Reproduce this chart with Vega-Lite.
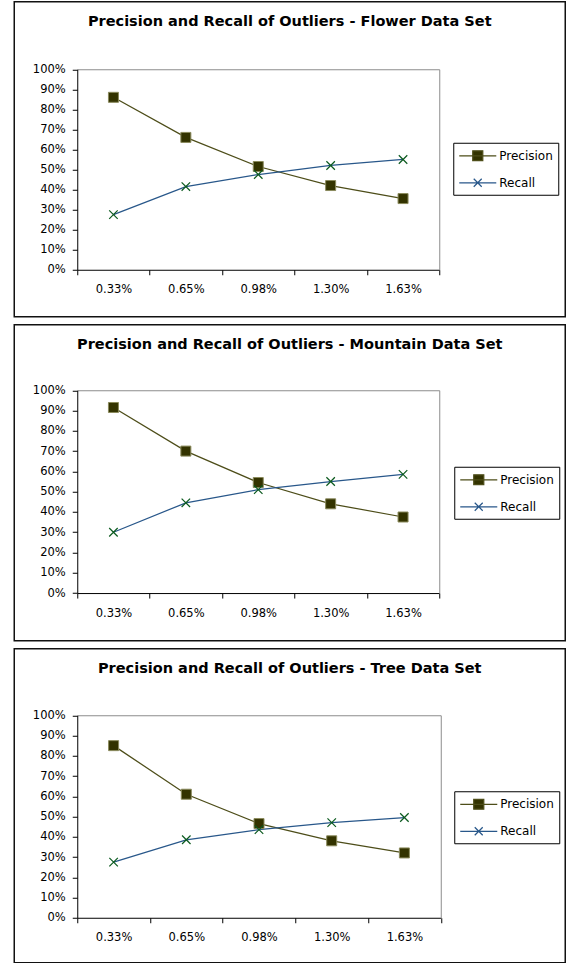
{
  "$schema": "https://vega.github.io/schema/vega-lite/v6.json",
  "background": "white",
  "padding": {"left": 13.25, "top": 0.75, "right": 0, "bottom": 0},
  "spacing": 6,
  "resolve": {"scale": {"color": "independent"}, "legend": {"color": "independent"}},
  "datasets": {
    "pr": [
      {"set": "Flower", "series": "Precision", "rate": "0.33%", "value": 0.86},
      {"set": "Flower", "series": "Precision", "rate": "0.65%", "value": 0.66},
      {"set": "Flower", "series": "Precision", "rate": "0.98%", "value": 0.515},
      {"set": "Flower", "series": "Precision", "rate": "1.30%", "value": 0.42},
      {"set": "Flower", "series": "Precision", "rate": "1.63%", "value": 0.355},
      {"set": "Flower", "series": "Recall", "rate": "0.33%", "value": 0.275},
      {"set": "Flower", "series": "Recall", "rate": "0.65%", "value": 0.415},
      {"set": "Flower", "series": "Recall", "rate": "0.98%", "value": 0.475},
      {"set": "Flower", "series": "Recall", "rate": "1.30%", "value": 0.52},
      {"set": "Flower", "series": "Recall", "rate": "1.63%", "value": 0.55},
      {"set": "Mountain", "series": "Precision", "rate": "0.33%", "value": 0.915},
      {"set": "Mountain", "series": "Precision", "rate": "0.65%", "value": 0.70},
      {"set": "Mountain", "series": "Precision", "rate": "0.98%", "value": 0.545},
      {"set": "Mountain", "series": "Precision", "rate": "1.30%", "value": 0.44},
      {"set": "Mountain", "series": "Precision", "rate": "1.63%", "value": 0.375},
      {"set": "Mountain", "series": "Recall", "rate": "0.33%", "value": 0.30},
      {"set": "Mountain", "series": "Recall", "rate": "0.65%", "value": 0.445},
      {"set": "Mountain", "series": "Recall", "rate": "0.98%", "value": 0.51},
      {"set": "Mountain", "series": "Recall", "rate": "1.30%", "value": 0.55},
      {"set": "Mountain", "series": "Recall", "rate": "1.63%", "value": 0.585},
      {"set": "Tree", "series": "Precision", "rate": "0.33%", "value": 0.85},
      {"set": "Tree", "series": "Precision", "rate": "0.65%", "value": 0.61},
      {"set": "Tree", "series": "Precision", "rate": "0.98%", "value": 0.465},
      {"set": "Tree", "series": "Precision", "rate": "1.30%", "value": 0.38},
      {"set": "Tree", "series": "Precision", "rate": "1.63%", "value": 0.32},
      {"set": "Tree", "series": "Recall", "rate": "0.33%", "value": 0.275},
      {"set": "Tree", "series": "Recall", "rate": "0.65%", "value": 0.385},
      {"set": "Tree", "series": "Recall", "rate": "0.98%", "value": 0.435},
      {"set": "Tree", "series": "Recall", "rate": "1.30%", "value": 0.47},
      {"set": "Tree", "series": "Recall", "rate": "1.63%", "value": 0.495}
    ]
  },
  "config": {
    "font": "DejaVu Sans",
    "axis": {"labelFont": "DejaVu Sans", "labelColor": "#000", "grid": false, "title": null},
    "title": {"font": "DejaVu Sans", "fontSize": 14.5, "fontWeight": "bold", "color": "#000", "anchor": "middle", "frame": "group", "baseline": "middle", "offset": -28},
    "legend": {"labelFont": "DejaVu Sans", "orient": "none", "title": null, "strokeColor": "#000", "fillColor": "white", "padding": 5, "labelFontSize": 12, "labelColor": "#000", "labelOffset": 25, "rowPadding": 11, "symbolSize": 196, "symbolStrokeWidth": 1.25}
  },
  "vconcat": [
    {
      "width": 551, "height": 315,
      "view": {"stroke": "#111", "strokeWidth": 1.5, "fill": "white"},
      "title": "Precision and Recall of Outliers - Flower Data Set",
      "data": {"name": "pr"},
      "transform": [{"filter": "datum.set === 'Flower'"}],
      "layer": [
        {
          "mark": {"type": "line", "strokeWidth": 1.25},
          "encoding": {
            "x": {"field": "rate", "type": "ordinal", "sort": ["0.33%", "0.65%", "0.98%", "1.30%", "1.63%"], "scale": {"type": "band", "range": [63, 425], "paddingInner": 0, "paddingOuter": 0},
              "axis": {"orient": "bottom", "offset": -47, "tickBand": "extent", "domainColor": "#000", "tickColor": "#000", "tickSize": 5, "labelFontSize": 11.5, "labelPadding": 9, "labelAngle": 0}},
            "y": {"field": "value", "type": "quantitative", "scale": {"domain": [0, 1], "range": [268, 67.5], "nice": false},
              "axis": {"orient": "left", "offset": -63, "values": [0, 0.1, 0.2, 0.3, 0.4, 0.5, 0.6, 0.7, 0.8, 0.9, 1], "format": ".0%", "domainColor": "#000", "tickColor": "#000", "tickSize": 5, "labelFontSize": 11.5, "labelPadding": 7}},
            "color": {"field": "series", "type": "nominal", "scale": {"domain": ["Precision", "Recall"], "range": ["#4d4d19", "#28578a"]},
              "legend": {"legendX": 439, "legendY": 141,
                "encode": {"symbols": {"update": {
                  "shape": {"signal": "datum.value === 'Precision' ? 'M-1,0H4.29M0.93,-0.71H2.36V0.71H0.93Z' : 'M-1,0H4.29M1.07,-0.57L2.21,0.57M1.07,0.57L2.21,-0.57'"},
                  "fill": {"signal": "datum.value === 'Precision' ? '#333300' : 'transparent'"}}}}}}
          }
        },
        {
          "transform": [{"filter": "datum.series === 'Precision'"}],
          "mark": {"type": "point", "shape": "square", "filled": true, "fill": "#333300", "stroke": "#8a8a5c", "strokeWidth": 1, "size": 100, "opacity": 1},
          "encoding": {
            "x": {"field": "rate", "type": "ordinal", "sort": ["0.33%", "0.65%", "0.98%", "1.30%", "1.63%"], "scale": {"type": "band", "range": [63, 425], "paddingInner": 0, "paddingOuter": 0},
              "axis": {"orient": "top", "offset": -67.5, "ticks": false, "labels": false, "domainColor": "#8c8c8c"}},
            "y": {"field": "value", "type": "quantitative", "scale": {"domain": [0, 1], "range": [268, 67.5], "nice": false},
              "axis": {"orient": "right", "offset": -126, "ticks": false, "labels": false, "domainColor": "#8c8c8c"}}
          }
        },
        {
          "transform": [{"filter": "datum.series === 'Recall'"}],
          "mark": {"type": "point", "shape": "M-1,-1L1,1M-1,1L1,-1", "filled": false, "stroke": "#0b5a1e", "strokeWidth": 1.2, "size": 72, "opacity": 1},
          "encoding": {
            "x": {"field": "rate", "type": "ordinal", "sort": ["0.33%", "0.65%", "0.98%", "1.30%", "1.63%"], "scale": {"type": "band", "range": [63, 425], "paddingInner": 0, "paddingOuter": 0}, "axis": null},
            "y": {"field": "value", "type": "quantitative", "scale": {"domain": [0, 1], "range": [268, 67.5], "nice": false}, "axis": null}
          }
        }
      ],
      "resolve": {"axis": {"x": "independent", "y": "independent"}}
    },
    {
      "width": 551, "height": 316,
      "view": {"stroke": "#111", "strokeWidth": 1.5, "fill": "white"},
      "title": "Precision and Recall of Outliers - Mountain Data Set",
      "data": {"name": "pr"},
      "transform": [{"filter": "datum.set === 'Mountain'"}],
      "layer": [
        {
          "mark": {"type": "line", "strokeWidth": 1.25},
          "encoding": {
            "x": {"field": "rate", "type": "ordinal", "sort": ["0.33%", "0.65%", "0.98%", "1.30%", "1.63%"], "scale": {"type": "band", "range": [63, 425], "paddingInner": 0, "paddingOuter": 0},
              "axis": {"orient": "bottom", "offset": -47.7, "tickBand": "extent", "domainColor": "#000", "tickColor": "#000", "tickSize": 5, "labelFontSize": 11.5, "labelPadding": 9, "labelAngle": 0}},
            "y": {"field": "value", "type": "quantitative", "scale": {"domain": [0, 1], "range": [268.3, 65.5], "nice": false},
              "axis": {"orient": "left", "offset": -63, "values": [0, 0.1, 0.2, 0.3, 0.4, 0.5, 0.6, 0.7, 0.8, 0.9, 1], "format": ".0%", "domainColor": "#000", "tickColor": "#000", "tickSize": 5, "labelFontSize": 11.5, "labelPadding": 7}},
            "color": {"field": "series", "type": "nominal", "scale": {"domain": ["Precision", "Recall"], "range": ["#4d4d19", "#28578a"]},
              "legend": {"legendX": 440, "legendY": 142,
                "encode": {"symbols": {"update": {
                  "shape": {"signal": "datum.value === 'Precision' ? 'M-1,0H4.29M0.93,-0.71H2.36V0.71H0.93Z' : 'M-1,0H4.29M1.07,-0.57L2.21,0.57M1.07,0.57L2.21,-0.57'"},
                  "fill": {"signal": "datum.value === 'Precision' ? '#333300' : 'transparent'"}}}}}}
          }
        },
        {
          "transform": [{"filter": "datum.series === 'Precision'"}],
          "mark": {"type": "point", "shape": "square", "filled": true, "fill": "#333300", "stroke": "#8a8a5c", "strokeWidth": 1, "size": 100, "opacity": 1},
          "encoding": {
            "x": {"field": "rate", "type": "ordinal", "sort": ["0.33%", "0.65%", "0.98%", "1.30%", "1.63%"], "scale": {"type": "band", "range": [63, 425], "paddingInner": 0, "paddingOuter": 0},
              "axis": {"orient": "top", "offset": -65.5, "ticks": false, "labels": false, "domainColor": "#8c8c8c"}},
            "y": {"field": "value", "type": "quantitative", "scale": {"domain": [0, 1], "range": [268.3, 65.5], "nice": false},
              "axis": {"orient": "right", "offset": -126, "ticks": false, "labels": false, "domainColor": "#8c8c8c"}}
          }
        },
        {
          "transform": [{"filter": "datum.series === 'Recall'"}],
          "mark": {"type": "point", "shape": "M-1,-1L1,1M-1,1L1,-1", "filled": false, "stroke": "#0b5a1e", "strokeWidth": 1.2, "size": 72, "opacity": 1},
          "encoding": {
            "x": {"field": "rate", "type": "ordinal", "sort": ["0.33%", "0.65%", "0.98%", "1.30%", "1.63%"], "scale": {"type": "band", "range": [63, 425], "paddingInner": 0, "paddingOuter": 0}, "axis": null},
            "y": {"field": "value", "type": "quantitative", "scale": {"domain": [0, 1], "range": [268.3, 65.5], "nice": false}, "axis": null}
          }
        }
      ],
      "resolve": {"axis": {"x": "independent", "y": "independent"}}
    },
    {
      "width": 551, "height": 314,
      "view": {"stroke": "#111", "strokeWidth": 1.5, "fill": "white"},
      "title": "Precision and Recall of Outliers - Tree Data Set",
      "data": {"name": "pr"},
      "transform": [{"filter": "datum.set === 'Tree'"}],
      "layer": [
        {
          "mark": {"type": "line", "strokeWidth": 1.25},
          "encoding": {
            "x": {"field": "rate", "type": "ordinal", "sort": ["0.33%", "0.65%", "0.98%", "1.30%", "1.63%"], "scale": {"type": "band", "range": [63, 426.5], "paddingInner": 0, "paddingOuter": 0},
              "axis": {"orient": "bottom", "offset": -45, "tickBand": "extent", "domainColor": "#000", "tickColor": "#000", "tickSize": 5, "labelFontSize": 11.5, "labelPadding": 9, "labelAngle": 0}},
            "y": {"field": "value", "type": "quantitative", "scale": {"domain": [0, 1], "range": [269, 66.5], "nice": false},
              "axis": {"orient": "left", "offset": -63, "values": [0, 0.1, 0.2, 0.3, 0.4, 0.5, 0.6, 0.7, 0.8, 0.9, 1], "format": ".0%", "domainColor": "#000", "tickColor": "#000", "tickSize": 5, "labelFontSize": 11.5, "labelPadding": 7}},
            "color": {"field": "series", "type": "nominal", "scale": {"domain": ["Precision", "Recall"], "range": ["#4d4d19", "#28578a"]},
              "legend": {"legendX": 440, "legendY": 142.5,
                "encode": {"symbols": {"update": {
                  "shape": {"signal": "datum.value === 'Precision' ? 'M-1,0H4.29M0.93,-0.71H2.36V0.71H0.93Z' : 'M-1,0H4.29M1.07,-0.57L2.21,0.57M1.07,0.57L2.21,-0.57'"},
                  "fill": {"signal": "datum.value === 'Precision' ? '#333300' : 'transparent'"}}}}}}
          }
        },
        {
          "transform": [{"filter": "datum.series === 'Precision'"}],
          "mark": {"type": "point", "shape": "square", "filled": true, "fill": "#333300", "stroke": "#8a8a5c", "strokeWidth": 1, "size": 100, "opacity": 1},
          "encoding": {
            "x": {"field": "rate", "type": "ordinal", "sort": ["0.33%", "0.65%", "0.98%", "1.30%", "1.63%"], "scale": {"type": "band", "range": [63, 426.5], "paddingInner": 0, "paddingOuter": 0},
              "axis": {"orient": "top", "offset": -66.5, "ticks": false, "labels": false, "domainColor": "#8c8c8c"}},
            "y": {"field": "value", "type": "quantitative", "scale": {"domain": [0, 1], "range": [269, 66.5], "nice": false},
              "axis": {"orient": "right", "offset": -124.5, "ticks": false, "labels": false, "domainColor": "#8c8c8c"}}
          }
        },
        {
          "transform": [{"filter": "datum.series === 'Recall'"}],
          "mark": {"type": "point", "shape": "M-1,-1L1,1M-1,1L1,-1", "filled": false, "stroke": "#0b5a1e", "strokeWidth": 1.2, "size": 72, "opacity": 1},
          "encoding": {
            "x": {"field": "rate", "type": "ordinal", "sort": ["0.33%", "0.65%", "0.98%", "1.30%", "1.63%"], "scale": {"type": "band", "range": [63, 426.5], "paddingInner": 0, "paddingOuter": 0}, "axis": null},
            "y": {"field": "value", "type": "quantitative", "scale": {"domain": [0, 1], "range": [269, 66.5], "nice": false}, "axis": null}
          }
        }
      ],
      "resolve": {"axis": {"x": "independent", "y": "independent"}}
    }
  ]
}
